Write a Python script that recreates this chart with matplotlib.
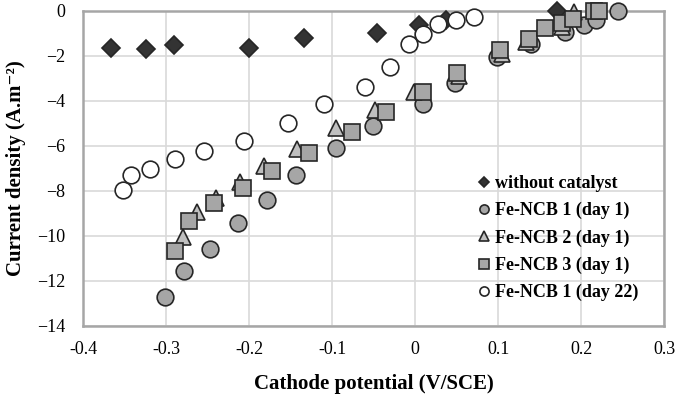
import matplotlib.pyplot as plt

# Cathode potential (V/SCE) and current density (A.m-2) per series
x_nocat = [-0.367, -0.324, -0.291, -0.200, -0.134, -0.046, 0.005, 0.037, 0.171]
y_nocat = [-1.66, -1.72, -1.54, -1.67, -1.20, -1.00, -0.64, -0.41, 0.0]

x_ncb1 = [-0.302, -0.279, -0.247, -0.214, -0.179, -0.144, -0.095, -0.051, 0.009,
          0.048, 0.098, 0.140, 0.180, 0.204, 0.218, 0.244]
y_ncb1 = [-12.71, -11.58, -10.59, -9.42, -8.41, -7.30, -6.10, -5.12, -4.15,
          -3.21, -2.04, -1.48, -0.95, -0.64, -0.41, 0.0]

x_ncb2 = [-0.280, -0.263, -0.240, -0.211, -0.182, -0.142, -0.095, -0.049, -0.001,
          0.053, 0.105, 0.133, 0.177, 0.191]
y_ncb2 = [-10.07, -8.93, -8.34, -7.60, -6.90, -6.15, -5.21, -4.41, -3.61,
          -2.90, -1.92, -1.39, -0.72, -0.05]

x_ncb3 = [-0.290, -0.272, -0.243, -0.207, -0.172, -0.128, -0.076, -0.035, 0.009,
          0.050, 0.102, 0.137, 0.156, 0.177, 0.190, 0.215, 0.222]
y_ncb3 = [-10.68, -9.35, -8.56, -7.89, -7.12, -6.34, -5.39, -4.50, -3.61,
          -2.77, -1.75, -1.26, -0.77, -0.55, -0.37, 0.0, 0.0]

x_ncb1_d22 = [-0.352, -0.342, -0.319, -0.290, -0.254, -0.206, -0.153, -0.110,
              -0.061, -0.030, -0.007, 0.009, 0.028, 0.049, 0.071]
y_ncb1_d22 = [-7.97, -7.30, -7.02, -6.60, -6.24, -5.79, -4.98, -4.15,
              -3.39, -2.52, -1.48, -1.04, -0.60, -0.43, -0.29]

x_ticks = [-0.4, -0.3, -0.2, -0.1, 0, 0.1, 0.2, 0.3]
x_ticklabels = ['-0.4', '-0.3', '-0.2', '-0.1', '0', '0.1', '0.2', '0.3']
y_ticks = [0, -2, -4, -6, -8, -10, -12, -14]

plt.rcParams['font.family'] = ['Liberation Serif', 'DejaVu Serif']

fig = plt.figure(figsize=(6.77, 4.08), dpi=100)
ax = fig.add_axes([0.123, 0.201, 0.858, 0.773])

edge = '#262626'
series = [
    (x_nocat, y_nocat, 'D', 9, '#333333', 'without catalyst'),
    (x_ncb1, y_ncb1, 'o', 12, '#a6a6a6', 'Fe-NCB 1 (day 1)'),
    (x_ncb2, y_ncb2, '^', 12, '#bfbfbf', 'Fe-NCB 2 (day 1)'),
    (x_ncb3, y_ncb3, 's', 12, '#a6a6a6', 'Fe-NCB 3 (day 1)'),
    (x_ncb1_d22, y_ncb1_d22, 'o', 12, 'white', 'Fe-NCB 1 (day 22)'),
]
for xs, ys, mk, ms, fc, lab in series:
    ax.plot(xs, ys, linestyle='none', marker=mk, markersize=ms,
            markerfacecolor=fc, markeredgecolor=edge, markeredgewidth=1.2,
            label=lab, clip_on=False, zorder=3)

ax.set_xlim(-0.4, 0.3)
ax.set_ylim(-14, 0)
ax.set_xticks(x_ticks)
ax.set_xticklabels(x_ticklabels)
ax.set_yticks(y_ticks)
ax.tick_params(length=0, labelsize=13)
ax.tick_params(axis='x', pad=11)
ax.tick_params(axis='y', pad=13)
ax.grid(True, color='#d9d9d9', linewidth=1.2)
ax.set_axisbelow(True)
for sp in ax.spines.values():
    sp.set_color('#a6a6a6')
    sp.set_linewidth(1.8)

ax.set_xlabel('Cathode potential (V/SCE)', fontsize=15, fontweight='bold', labelpad=11)
ax.set_ylabel('Current density (A.m\u207b\u00b2)', fontsize=15, fontweight='bold', labelpad=8)

leg = ax.legend(loc='lower right', bbox_to_anchor=(0.984, 0.027), frameon=False,
                markerscale=0.55, handletextpad=0.1, handlelength=1.0,
                labelspacing=0.55, prop={'weight': 'bold', 'size': 13})

fig.savefig('out.png', dpi=100)
